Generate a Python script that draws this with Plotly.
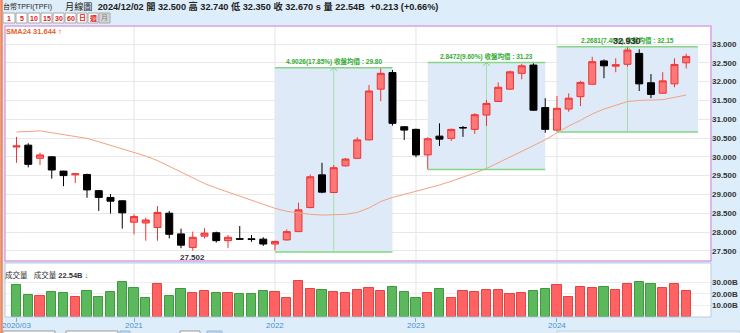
import plotly.graph_objects as go

W, H = 740, 333
FONT = "Liberation Sans, Noto Sans CJK TC, sans-serif"

# ---- monthly bars, 2020/03 .. 2024/12 ----
months = [f"{y}/{m:02d}" for y in range(2020, 2025) for m in range(1, 13)][2:]

opens = [30.26, 30.31, 29.96, 30.00, 29.62, 29.52, 29.53, 29.10, 28.92, 28.83,
         28.26, 28.24, 28.12, 28.50, 27.95, 27.59, 27.89, 27.98, 27.77, 27.82,
         27.82, 27.81, 27.68, 27.79, 28.01, 28.65, 29.52, 29.05, 29.76, 29.96,
         30.45, 31.80, 32.24, 30.80, 30.73, 30.05, 30.55, 30.49, 30.78, 30.73,
         31.11, 31.47, 31.80, 32.22, 32.44, 31.31, 30.71, 31.27, 31.60, 31.93,
         32.55, 32.41, 32.46, 32.75, 31.97, 31.69, 31.94, 32.50]
highs = [30.53, 30.36, 30.11, 30.01, 29.63, 29.57, 29.55, 29.11, 29.01, 28.84,
         28.47, 28.38, 28.69, 28.56, 28.09, 28.01, 28.10, 28.01, 27.92, 28.16,
         27.92, 27.86, 27.77, 28.07, 28.78, 29.53, 29.84, 29.78, 29.97, 30.52,
         31.91, 32.35, 32.31, 30.81, 30.75, 30.52, 30.89, 30.75, 30.82, 31.16,
         31.51, 31.98, 32.29, 32.47, 32.49, 31.56, 31.62, 31.69, 32.02, 32.66,
         32.59, 32.62, 32.93, 32.86, 32.20, 32.25, 32.62, 32.74]
lows = [29.84, 29.72, 29.78, 29.42, 29.22, 29.30, 28.91, 28.56, 28.49, 28.09,
        27.94, 27.77, 27.77, 27.83, 27.57, 27.502, 27.83, 27.72, 27.57, 27.80,
        27.74, 27.63, 27.51, 27.77, 28.00, 28.63, 29.03, 29.04, 29.74, 29.95,
        30.44, 31.48, 30.83, 30.45, 29.99, 29.67, 30.29, 30.42, 30.53, 30.61,
        30.82, 31.46, 31.79, 32.06, 31.22, 30.64, 30.67, 31.20, 31.35, 31.92,
        32.09, 32.25, 32.40, 31.75, 31.56, 31.68, 31.85, 32.35]
closes = [30.29, 29.80, 30.05, 29.65, 29.50, 29.55, 29.12, 28.92, 28.82, 28.51,
          28.41, 28.32, 28.52, 27.94, 27.65, 27.86, 27.97, 27.77, 27.86, 27.81,
          27.80, 27.68, 27.75, 28.01, 28.59, 29.47, 29.06, 29.71, 29.94, 30.45,
          31.75, 32.22, 30.89, 30.71, 30.05, 30.48, 30.47, 30.73, 30.77, 31.12,
          31.42, 31.85, 32.26, 32.42, 31.24, 30.73, 31.29, 31.56, 31.98, 32.53,
          32.42, 32.45, 32.84, 31.94, 31.66, 32.02, 32.457, 32.67]
volumes = [27.6, 19.0, 18.4, 21.3, 20.7, 17.0, 22.4, 17.5, 21.3, 29.9,
           25.0, 16.1, 28.2, 18.1, 24.1, 21.0, 22.7, 21.0, 21.0, 19.8,
           19.8, 22.4, 21.8, 16.1, 31.0, 24.1, 23.3, 21.8, 20.4, 23.5,
           24.7, 22.4, 26.1, 21.8, 16.1, 21.0, 23.9, 16.7, 22.4, 21.3,
           23.0, 23.0, 19.8, 20.4, 22.4, 23.9, 27.6, 17.0, 25.6, 24.7,
           25.6, 23.0, 28.2, 29.9, 28.2, 24.7, 28.7, 22.54]
sma24 = [30.66, 30.67, 30.69, 30.64, 30.59, 30.54, 30.49, 30.40, 30.31, 30.22,
         30.13, 30.02, 29.90, 29.75, 29.59, 29.44, 29.29, 29.17, 29.06, 28.96,
         28.85, 28.73, 28.63, 28.55, 28.50, 28.47, 28.45, 28.45, 28.47, 28.52,
         28.64, 28.81, 28.92, 29.00, 29.08, 29.16, 29.25, 29.35, 29.45, 29.57,
         29.69, 29.84, 30.00, 30.15, 30.30, 30.45, 30.64, 30.82, 30.97, 31.14,
         31.27, 31.38, 31.47, 31.50, 31.50, 31.52, 31.58, 31.644]
prev_close = 30.45  # 2020/02 close, sets the colour of the first volume bar

# ---- range-measure boxes ----
box_start = [22, 35, 46]
box_end = [32, 45, 58]
box_low = [27.4664, 29.66, 30.6619]
box_high = [32.369, 32.5072, 32.93]

price_ticks = [27.5, 28.0, 28.5, 29.0, 29.5, 30.0, 30.5, 31.0, 31.5, 32.0, 32.5, 33.0]
vol_ticks = [10, 20, 30]
year_ticks = [0, 10, 22, 34, 46]
year_labels = ["2020/03", "2021", "2022", "2023", "2024"]

x = list(range(len(months)))


def px(v):
    return v / W


def py(v):
    return 1 - v / H


UP_FILL, UP_LINE = "#ff7878", "#ee3434"
V_RED, V_RED_LINE = "#ff6262", "#e34545"
V_GREEN, V_GREEN_LINE = "#5cb85c", "#3f9a3f"

fig = go.Figure()

fig.add_trace(go.Candlestick(
    x=x, open=opens, high=highs, low=lows, close=closes,
    increasing=dict(fillcolor=UP_FILL, line=dict(color=UP_LINE, width=1)),
    decreasing=dict(fillcolor="#000000", line=dict(color="#000000", width=1)),
    whiskerwidth=0, xaxis="x", yaxis="y", hoverinfo="skip", showlegend=False,
))

fig.add_trace(go.Scatter(
    x=x, y=sma24, mode="lines", line=dict(color="#f2a27e", width=1),
    xaxis="x", yaxis="y", hoverinfo="skip", showlegend=False,
))

prior = [prev_close] + closes[:-1]
vcol = [V_RED if c > p else V_GREEN for c, p in zip(closes, prior)]
vline = [V_RED_LINE if c > p else V_GREEN_LINE for c, p in zip(closes, prior)]
fig.add_trace(go.Bar(
    x=x, y=volumes, width=0.8,
    marker=dict(color=vcol, line=dict(color=vline, width=1)),
    xaxis="x", yaxis="y2", hoverinfo="skip", showlegend=False,
))

price_dom = [py(261), py(26)]
vol_dom = [py(317), py(263)]

shapes = []
annotations = []

# vertical year grid lines in both panels
for t in year_ticks[1:]:
    for dom in (price_dom, vol_dom):
        shapes.append(dict(type="line", xref="x", yref="paper", x0=t, x1=t,
                           y0=dom[0], y1=dom[1], line=dict(color="#e4e4e4", width=1),
                           layer="below"))

# year labels under the tick marks
for t, lab in zip(year_ticks, year_labels):
    annotations.append(dict(x=t, y=py(325), xref="x", yref="paper", yanchor="middle",
                            showarrow=False, text=lab,
                            font=dict(family=FONT, size=8, color="#4a8ed0")))

# measurement boxes with range / mean-close labels
for s, e, lo, hi in zip(box_start, box_end, box_low, box_high):
    mid = (s + e) / 2
    seg = closes[s:min(e, len(closes) - 1) + 1]
    avg = sum(seg) / len(seg)
    diff = hi - lo
    shapes.append(dict(type="rect", xref="x", yref="y", x0=s, x1=e, y0=lo, y1=hi,
                       fillcolor="#dfeaf9", line=dict(width=0), layer="between"))
    shapes.append(dict(type="line", xref="x", yref="y", x0=mid, x1=mid, y0=lo, y1=hi,
                       line=dict(color="#a6dfa6", width=1), layer="between"))
    for yy in (lo, hi):
        shapes.append(dict(type="line", xref="x", yref="y", x0=s, x1=e, y0=yy, y1=yy,
                           line=dict(color="#86d586", width=1.5), layer="above"))
    shapes.append(dict(type="path", xref="x", yref="y",
                       path=f"M {mid - 0.3} {hi - 0.09} L {mid} {hi} L {mid + 0.3} {hi - 0.09}",
                       line=dict(color="#86d586", width=1), layer="above"))
    annotations.append(dict(
        x=mid, y=hi, xref="x", yref="y", xanchor="center", yanchor="bottom", yshift=0,
        text=f"<b>{diff:.4f}({diff / lo * 100:.2f}%) 收盤均價 : {avg:.2f}</b>",
        showarrow=False, font=dict(family=FONT, size=6.5, color="#33aa33")))

# highest / lowest marks
i_hi = max(x, key=lambda i: highs[i])
i_lo = min(x, key=lambda i: lows[i])
annotations.append(dict(x=i_hi, y=highs[i_hi], xref="x", yref="y", yanchor="bottom",
                        text=f"<b>{highs[i_hi]:.3f}</b>", showarrow=False, yshift=-1,
                        font=dict(family=FONT, size=9, color="#333333")))
annotations.append(dict(x=i_lo, y=lows[i_lo], xref="x", yref="y", yanchor="top",
                        text=f"<b>{lows[i_lo]:.3f}</b>", showarrow=False,
                        font=dict(family=FONT, size=8, color="#333333")))

# panel frames
shapes.append(dict(type="rect", xref="paper", yref="paper", x0=px(5), x1=px(711),
                   y0=py(261), y1=py(26), line=dict(color="#d8a2e4", width=1.5)))
shapes.append(dict(type="rect", xref="paper", yref="paper", x0=px(5), x1=px(711),
                   y0=py(317), y1=py(263), line=dict(color="#b4cbe2", width=1)))
shapes.append(dict(type="line", xref="paper", yref="paper", x0=px(1.5), x1=px(1.5),
                   y0=0, y1=1, line=dict(color="#f0865a", width=2.5)))

# header text
last = len(closes) - 1
chg = closes[last] - closes[last - 1]
annotations.append(dict(x=px(1), y=py(6.5), xref="paper", yref="paper", xanchor="left",
                        yanchor="middle", showarrow=False, text="台幣TPFI(TPFI)",
                        font=dict(family=FONT, size=7, color="#222222")))
head = (f"月線圖  <b>2024/12/02 開 {opens[last]:.3f} 高 {highs[last]:.3f} "
        f"低 {lows[last]:.3f} 收 {closes[last]:.3f} s 量 {volumes[last]:.2f}B  "
        f"{chg:+.3f} ({chg / closes[last - 1] * 100:+.2f}%)</b>")
annotations.append(dict(x=px(63), y=py(6.5), xref="paper", yref="paper", xanchor="left",
                        yanchor="middle", showarrow=False, text=head,
                        font=dict(family=FONT, size=9.2, color="#222222")))

# period buttons
buttons = ["1", "5", "10", "15", "30", "60", "日", "週", "月"]
bx = [3, 16, 28, 41, 53, 65, 77, 88, 99]
bw = [12, 11, 12, 11, 11, 11, 10, 10, 11]
for b, x0, w in zip(buttons, bx, bw):
    sel = b == "月"
    shapes.append(dict(type="rect", xref="paper", yref="paper", x0=px(x0), x1=px(x0 + w),
                       y0=py(23), y1=py(13), fillcolor="#d6d6d6" if sel else "#ffffff",
                       line=dict(color="#a8a8a8", width=1), layer="above"))
    annotations.append(dict(x=px(x0 + w / 2), y=py(18), xref="paper", yref="paper",
                            xanchor="center", yanchor="middle", showarrow=False,
                            text=f"<b>{b}</b>", borderpad=0,
                            font=dict(family=FONT, size=7, color="#999999" if sel else "#e02020")))

# indicator captions
annotations.append(dict(x=px(5), y=py(31.5), xref="paper", yref="paper", xanchor="left",
                        yanchor="middle", showarrow=False, borderpad=0,
                        text=f"<b>SMA24 {sma24[-1]:.3f} <span style='color:#e0201a'>↑</span></b>",
                        font=dict(family=FONT, size=7.5, color="#e8622a")))
annotations.append(dict(x=px(3), y=py(275), xref="paper", yref="paper", xanchor="left",
                        yanchor="middle", showarrow=False,
                        text=f"成交量   成交量 <b>{volumes[-1]:.2f}B <span style='color:#1a9a1a'>↓</span></b>",
                        font=dict(family=FONT, size=7.5, color="#333333")))

# toolbar strip at the foot
for x0, x1, fc, lc in [(3, 55, "#ffffff", "#9a9a9a"), (66, 118, "#ffffff", "#9a9a9a"),
                       (120, 130, "#bcd7ef", "#9ab8d8"), (180, 200, "#ffffff", "#9a9a9a"),
                       (207, 222, "#bcd7ef", "#9ab8d8"), (557, 740, "#e6eef6", "#c4d4e4")]:
    shapes.append(dict(type="rect", xref="paper", yref="paper", x0=px(x0), x1=px(x1),
                       y0=py(335), y1=py(331), fillcolor=fc, line=dict(color=lc, width=1)))

fig.update_layout(
    width=W, height=H, margin=dict(l=0, r=0, t=0, b=0),
    paper_bgcolor="#ddeefa", plot_bgcolor="#ffffff",
    boxgap=0.15, bargap=0,
    xaxis=dict(domain=[px(5), px(711)], range=[-0.98, 59.11], anchor="y2",
               tickvals=year_ticks, ticks="outside", ticklen=4, showticklabels=False,
               tickcolor="#7da8d2", showgrid=False, zeroline=False, showline=False,
               rangeslider=dict(visible=False), fixedrange=True),
    yaxis=dict(domain=price_dom, range=[27.229, 33.479], side="right", anchor="x",
               tickvals=price_ticks, ticktext=[f"{v:.3f}" for v in price_ticks],
               tickfont=dict(family=FONT, size=8, color="#333333", weight="bold"),
               gridcolor="#e8e8e8", zeroline=False, showline=False, ticks=""),
    yaxis2=dict(domain=vol_dom, range=[0, 46.55], side="right", anchor="x",
                tickvals=vol_ticks, ticktext=[f"{v:.2f}B" for v in vol_ticks],
                tickfont=dict(family=FONT, size=8, color="#333333", weight="bold"),
                gridcolor="#eeeeee", zeroline=False, showline=False, ticks=""),
    shapes=shapes, annotations=annotations,
)

fig.write_html("out.html")
